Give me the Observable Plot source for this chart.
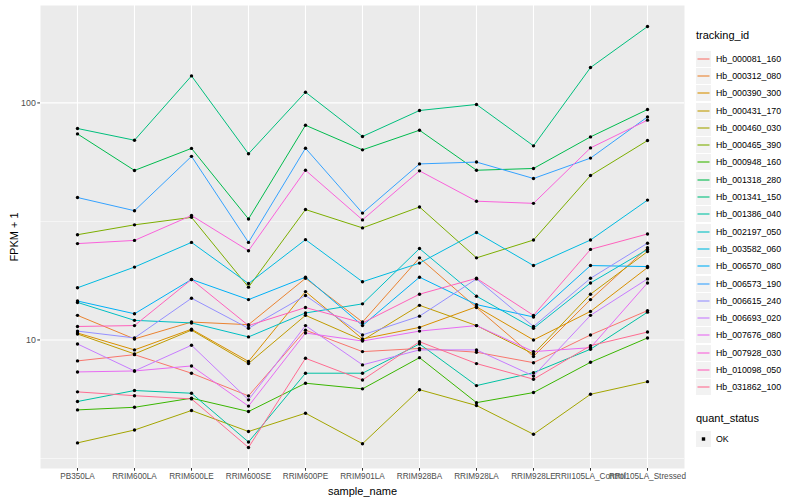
<!DOCTYPE html>
<html>
<head>
<meta charset="utf-8">
<script src="https://cdn.jsdelivr.net/npm/d3@7"></script>
<script src="https://cdn.jsdelivr.net/npm/@observablehq/plot@0.6"></script>
<style>
  body { margin: 0; background: #fff; font-family: "Liberation Sans", Arial, sans-serif; }
  #wrap { position: relative; width: 800px; height: 500px; }
  #legend { position: absolute; left: 696px; top: 27px; font-size: 8.8px; color: #000; }
  .ltitle { font-size: 11px; height: 16px; line-height: 16px; margin-bottom: 7px; }
  .row { display: flex; align-items: center; height: 17.3px; }
  .row svg { display: block; margin-right: 5px; }
</style>
</head>
<body>
<div id="wrap"><div id="chart"></div><div id="legend"></div></div>
<script>
const samples = ["PB350LA","RRIM600LA","RRIM600LE","RRIM600SE","RRIM600PE","RRIM901LA","RRIM928BA","RRIM928LA","RRIM928LE","RRII105LA_Control","RRII105LA_Stressed"];

const trackingIds = ["Hb_000081_160","Hb_000312_080","Hb_000390_300","Hb_000431_170","Hb_000460_030","Hb_000465_390","Hb_000948_160","Hb_001318_280","Hb_001341_150","Hb_001386_040","Hb_002197_050","Hb_003582_060","Hb_006570_080","Hb_006573_190","Hb_006615_240","Hb_006693_020","Hb_007676_080","Hb_007928_030","Hb_010098_050","Hb_031862_100"];

// FPKM + 1 values, one array per tracking_id, in sample order
const hb_000081_160 = [8.16, 8.67, 7.24, 5.81, 11.0, 8.93, 9.21, 8.88, 8.02, 10.5, 13.3];
const hb_000312_080 = [12.7, 10.1, 11.9, 11.6, 18.2, 11.9, 22.2, 13.7, 8.52, 14.8, 24.5];
const hb_000390_300 = [10.7, 9.08, 11.1, 8.12, 16.0, 10.1, 11.3, 13.8, 10.0, 13.2, 20.2];
const hb_000431_170 = [10.6, 8.73, 11.0, 7.96, 12.7, 9.97, 14.0, 11.5, 8.73, 15.6, 23.6];
const hb_000460_030 = [3.68, 4.17, 5.04, 4.11, 4.91, 3.65, 6.17, 5.29, 4.00, 5.90, 6.67];
const hb_000465_390 = [27.8, 30.6, 32.9, 16.7, 35.5, 29.7, 36.4, 22.2, 26.4, 49.4, 69.4];
const hb_000948_160 = [5.07, 5.20, 5.68, 4.99, 6.57, 6.22, 8.42, 5.44, 6.00, 8.05, 10.2];
const hb_001318_280 = [74.0, 51.9, 64.3, 32.4, 80.5, 63.4, 76.7, 52.0, 52.9, 71.9, 93.8];
const hb_001341_150 = [78.0, 69.6, 130, 61.0, 111, 72.2, 92.9, 98.5, 65.9, 141, 210];
const hb_001386_040 = [5.50, 6.12, 5.96, 3.71, 7.24, 7.24, 9.62, 6.42, 7.28, 9.14, 13.1];
const hb_002197_050 = [14.4, 12.1, 11.8, 10.3, 13.0, 14.2, 24.3, 15.3, 11.2, 17.4, 24.1];
const hb_003582_060 = [16.6, 20.3, 25.8, 17.3, 26.5, 17.6, 21.1, 28.4, 20.6, 26.4, 38.9];
const hb_006570_080 = [14.6, 12.9, 18.0, 14.8, 18.4, 11.5, 18.4, 14.1, 12.5, 20.6, 20.4];
const hb_006573_190 = [39.9, 35.1, 59.5, 25.8, 64.4, 34.3, 55.3, 56.3, 48.0, 58.5, 87.3];
const hb_006615_240 = [10.9, 10.2, 15.0, 11.2, 15.4, 10.5, 12.6, 18.1, 11.4, 18.2, 25.6];
const hb_006693_020 = [9.62, 7.40, 9.50, 5.59, 11.5, 7.85, 9.08, 9.08, 7.05, 12.7, 18.1];
const hb_007676_080 = [7.33, 7.40, 7.77, 5.26, 10.7, 9.90, 10.9, 11.5, 8.93, 9.28, 17.4];
const hb_007928_030 = [25.5, 26.3, 33.5, 23.8, 52.0, 32.1, 51.7, 38.5, 37.7, 64.6, 84.6];
const hb_010098_050 = [11.4, 11.5, 18.0, 11.5, 13.7, 11.8, 15.6, 18.2, 12.7, 24.1, 28.0];
const hb_031862_100 = [6.04, 5.82, 5.64, 3.52, 8.37, 6.78, 9.83, 7.95, 6.83, 9.46, 10.8];

const seriesValues = [hb_000081_160, hb_000312_080, hb_000390_300, hb_000431_170, hb_000460_030, hb_000465_390, hb_000948_160, hb_001318_280, hb_001341_150, hb_001386_040, hb_002197_050, hb_003582_060, hb_006570_080, hb_006573_190, hb_006615_240, hb_006693_020, hb_007676_080, hb_007928_030, hb_010098_050, hb_031862_100];

const yTicks = [10, 100];
const statusLevels = ["OK"];

// ggplot2 hue palette for 20 levels
const colors = ["#F8766D","#EA8331","#D89000","#C09B00","#A3A500","#7CAE00","#39B600","#00BB4E","#00BF7D","#00C1A3","#00BFC4","#00BAE0","#00B0F6","#35A2FF","#9590FF","#C77CFF","#E76BF3","#FA62DB","#FF62BC","#FF6C91"];

const data = [];
trackingIds.forEach((id, i) => {
  samples.forEach((s, j) => data.push({tracking_id: id, sample_name: s, value: seriesValues[i][j], quant_status: "OK"}));
});

// ggplot-like 5% expansion in log space
const [lo, hi] = d3.extent(data, d => Math.log10(d.value));
const pad = (hi - lo) * 0.05;
const yDomain = [10 ** (lo - pad), 10 ** (hi + pad)];
const minorGrid = [10 ** 0.5, 10 ** 1.5];

const font = '"Liberation Sans", Arial, sans-serif';

const chart = Plot.plot({
  width: 800,
  height: 500,
  marginLeft: 40,
  marginRight: 116,
  marginTop: 5,
  marginBottom: 32,
  style: {fontFamily: font, background: "#fff"},
  x: {type: "point", domain: samples, padding: 0.6},
  y: {type: "log", domain: yDomain},
  color: {domain: trackingIds, range: colors},
  marks: [
    Plot.frame({fill: "#EBEBEB", stroke: null}),
    Plot.ruleY(minorGrid, {stroke: "#fff", strokeWidth: 0.55}),
    Plot.ruleY(yTicks, {stroke: "#fff", strokeWidth: 1.1}),
    Plot.ruleX(samples, {stroke: "#fff", strokeWidth: 1.1}),
    Plot.line(data, {x: "sample_name", y: "value", z: "tracking_id", stroke: "tracking_id", strokeWidth: 1}),
    Plot.dot(data, {x: "sample_name", y: "value", r: 1.7, fill: "black", stroke: null}),
    Plot.axisY({ticks: yTicks, tickFormat: d => String(d), tickSize: 2.7, tickPadding: 2, fontSize: 8.8, color: "#4D4D4D", stroke: "#333", label: "FPKM + 1", labelAnchor: "center", labelArrow: "none", labelOffset: 30}),
    Plot.axisX({tickSize: 2.7, tickPadding: 2, fontSize: 8.2, color: "#4D4D4D", stroke: "#333", label: "sample_name", labelAnchor: "center", labelArrow: "none", labelOffset: 26})
  ]
});
// axis titles: black, 11px
chart.querySelectorAll('g[aria-label="y-axis label"] text, g[aria-label="x-axis label"] text').forEach(t => {
  t.setAttribute("font-size", 11); t.style.fontSize = "11px"; t.setAttribute("fill", "#000");
});
document.getElementById("chart").appendChild(chart);

// legends
const lg = document.getElementById("legend");
let html = '<div class="ltitle">tracking_id</div>';
trackingIds.forEach((id, i) => {
  html += `<div class="row"><svg width="15" height="16"><rect width="15" height="16" fill="#F2F2F2"/><line x1="1.5" x2="13.5" y1="8" y2="8" stroke="${colors[i]}" stroke-width="1.1"/></svg><span>${id}</span></div>`;
});
html += '<div class="ltitle" style="margin-top:14px;margin-bottom:4px">quant_status</div>';
statusLevels.forEach(s => {
  html += `<div class="row"><svg width="15" height="16"><rect width="15" height="16" fill="#F2F2F2"/><rect x="5.8" y="6.3" width="3.4" height="3.4" fill="#000"/></svg><span>${s}</span></div>`;
});
lg.innerHTML = html;
</script>
</body>
</html>
